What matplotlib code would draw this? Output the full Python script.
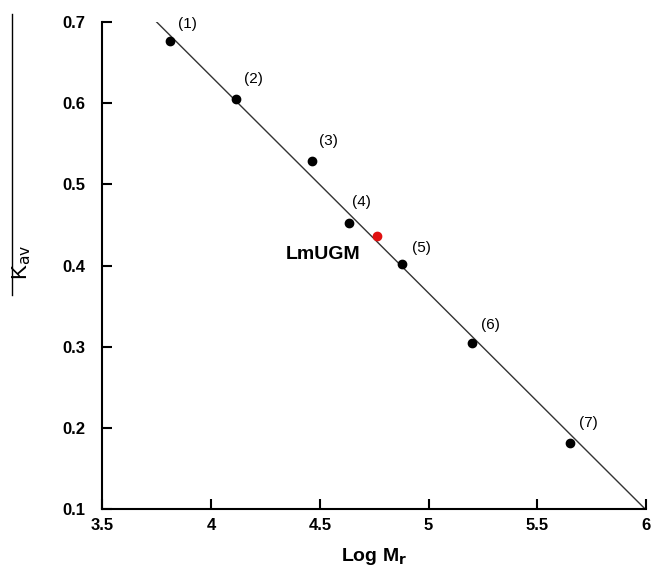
import numpy as np
import matplotlib
matplotlib.use("Agg")
import matplotlib.pyplot as plt
from matplotlib.lines import Line2D

# standards (log Mr vs Kav)
log_mr = [3.81, 4.114, 4.464, 4.634, 4.878, 5.2, 5.65]
kav = [0.677, 0.605, 0.529, 0.452, 0.402, 0.305, 0.182]
labels = ["(1)", "(2)", "(3)", "(4)", "(5)", "(6)", "(7)"]
# sample
sample_x, sample_y = 4.763, 0.436
# calibration line
slope, intercept = -0.267, 1.701

plt.rcParams['font.family'] = ['Liberation Sans', 'DejaVu Sans']

fig = plt.figure(figsize=(6.52, 5.76), dpi=100)
ax = fig.add_axes([0.157, 0.116, 0.834, 0.846])

xl = np.array([3.5, 6.0])
ax.plot(xl, intercept + slope * xl, color='#333333', lw=1.0)
ax.scatter(log_mr, kav, s=36, color='black', zorder=3)
ax.scatter([sample_x], [sample_y], s=36, color='#e01010', zorder=3)

offs = [(0.08, 0.02), (0.08, 0.025), (0.075, 0.024), (0.055, 0.026), (0.09, 0.02), (0.085, 0.022), (0.085, 0.024)]
for x, y, t, (dx, dy) in zip(log_mr, kav, labels, offs):
    ax.text(x + dx, y + dy, t, fontsize=11, ha='center', va='center')
ax.text(4.515, 0.413, "LmUGM", fontsize=14, fontweight='bold', ha='center', va='center')

ax.set_xlim(3.5, 6)
ax.set_ylim(0.1, 0.7)
ax.set_xticks([3.5, 4, 4.5, 5, 5.5, 6])
ax.set_xticklabels(["3.5", "4", "4.5", "5", "5.5", "6"])
ax.set_yticks([0.1, 0.2, 0.3, 0.4, 0.5, 0.6, 0.7])
ax.spines['top'].set_visible(False)
ax.spines['right'].set_visible(False)
for s in ['left', 'bottom']:
    ax.spines[s].set_linewidth(1.5)
ax.tick_params(direction='in', length=7, width=1.5, labelsize=12, pad=6)
for lab in ax.get_xticklabels() + ax.get_yticklabels():
    lab.set_fontweight('bold')
ax.tick_params(axis='y', pad=12)

ax.set_xlabel("Log M$_\\mathbf{r}$", fontsize=14, fontweight='bold', labelpad=10)
fig.text(0.033, 0.545, "K$_{\\mathrm{av}}$", fontsize=16, rotation=90, ha='center', va='center')
fig.add_artist(Line2D([0.018, 0.018], [0.488, 0.976], color='black', lw=1.0))

fig.savefig("out.png", dpi=100)
